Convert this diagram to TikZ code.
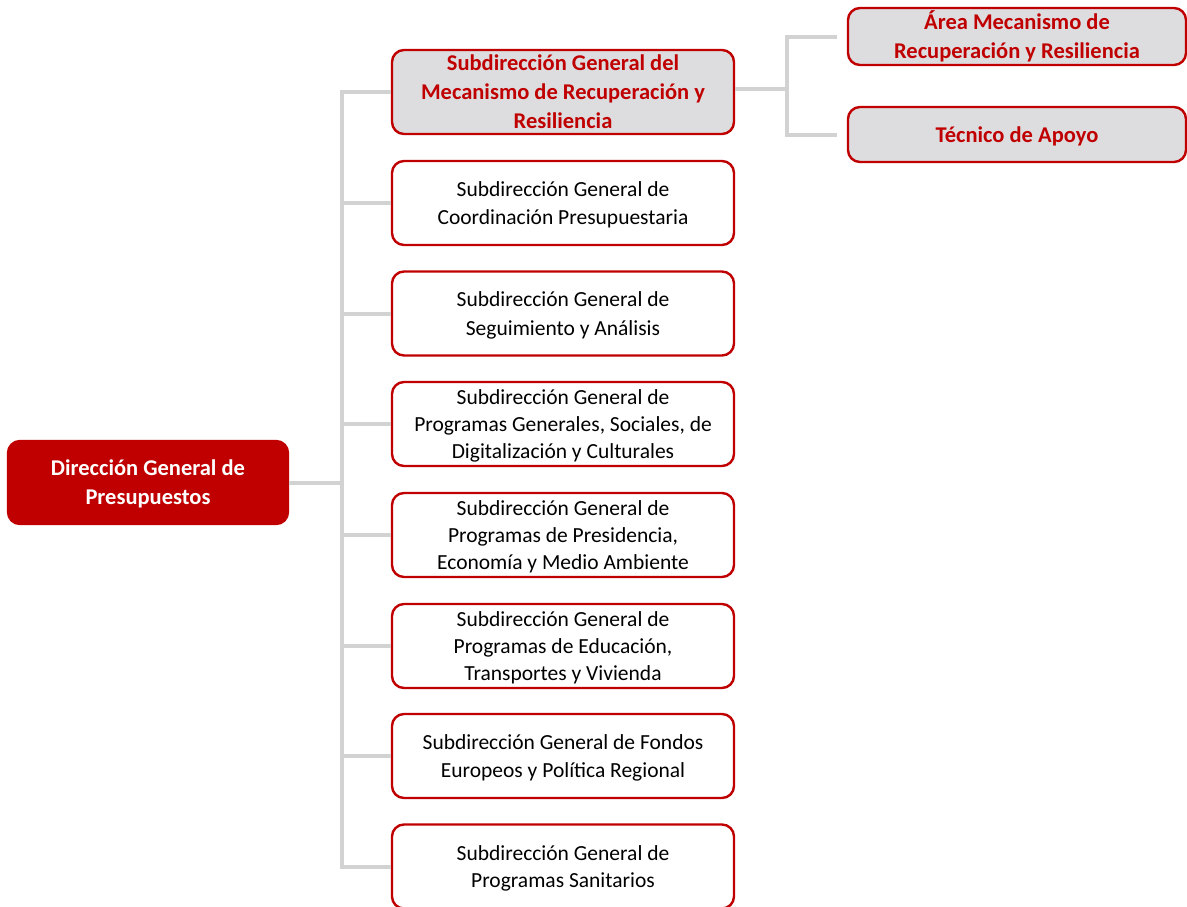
\documentclass[tikz,border=0pt]{standalone}
\usepackage{fontspec}
\setmainfont{Carlito}
\usetikzlibrary{calc}
\definecolor{dred}{RGB}{192,0,0}
\definecolor{lgray}{RGB}{221,221,223}
\definecolor{cgray}{RGB}{210,210,210}
\begin{document}
\begin{tikzpicture}[x=1pt,y=-1pt,
  basebox/.style={draw=dred,line width=2.4pt,rounded corners=12pt,align=center,inner sep=0pt},
  rootbox/.style={basebox,fill=dred,text=white,minimum width=280pt,minimum height=83pt,
     font=\fontsize{22.5}{29}\selectfont\bfseries},
  subbox/.style={basebox,fill=white,minimum width=342pt,minimum height=84pt,
     font=\fontsize{21.5}{27}\selectfont},
  twobox/.style={subbox,font=\fontsize{21.5}{28.5}\selectfont},
  hibox/.style={basebox,fill=lgray,text=dred,font=\fontsize{22.5}{29}\selectfont\bfseries},
  conn/.style={draw=cgray,line width=4pt}]
\useasboundingbox (0,0) rectangle (1187,906);

\node[rootbox,text depth=-3pt] (root) at (148,482.5) {Dirección General de\\Presupuestos};

\node[hibox,minimum width=342pt,minimum height=84pt,text depth=-1pt] (s1) at (563,92) {Subdirección General del\\Mecanismo de Recuperación y\\Resiliencia};
\node[twobox,text depth=-3pt] (s2) at (563,203) {Subdirección General de\\Coordinación Presupuestaria};
\node[twobox,text depth=-3pt] (s3) at (563,313.5) {Subdirección General de\\Seguimiento y Análisis};
\node[subbox,text depth=-3pt] (s4) at (563,424) {Subdirección General de\\Programas Generales, Sociales, de\\Digitalización y Culturales};
\node[subbox,text depth=-3pt] (s5) at (563,535) {Subdirección General de\\Programas de Presidencia,\\Economía y Medio Ambiente};
\node[subbox,text depth=-3pt] (s6) at (563,646) {Subdirección General de\\Programas de Educación,\\Transportes y Vivienda};
\node[twobox,text depth=-2.5pt] (s7) at (563,756) {Subdirección General de Fondos\\Europeos y Política Regional};
\node[subbox,text depth=-3pt] (s8) at (563,866.5) {Subdirección General de\\Programas Sanitarios};

\node[hibox,minimum width=338pt,minimum height=57pt] (a) at (1017,36.5) {Área Mecanismo de\\Recuperación y Resiliencia};
\node[hibox,minimum width=338pt,minimum height=55pt,text depth=-3pt] (b) at (1017,134.5) {Técnico de Apoyo};

\begin{scope}[on background layer/.try]
\foreach \s in {s1,s2,s3,s4,s5,s6,s7,s8}{
  \draw[conn] (root.east) -- ++(53,0) |- (\s.west);
}
\coordinate (ae) at ($(a.west)+(-10,0)$);
\coordinate (be) at ($(b.west)+(-10,0)$);
\coordinate (s1r) at ($(s1.east)+(0,-3)$);
\draw[conn] (s1r) -- ++(52,0) |- (ae);
\draw[conn] (s1r) -- ++(52,0) |- (be);
\end{scope}
\end{tikzpicture}
\end{document}
